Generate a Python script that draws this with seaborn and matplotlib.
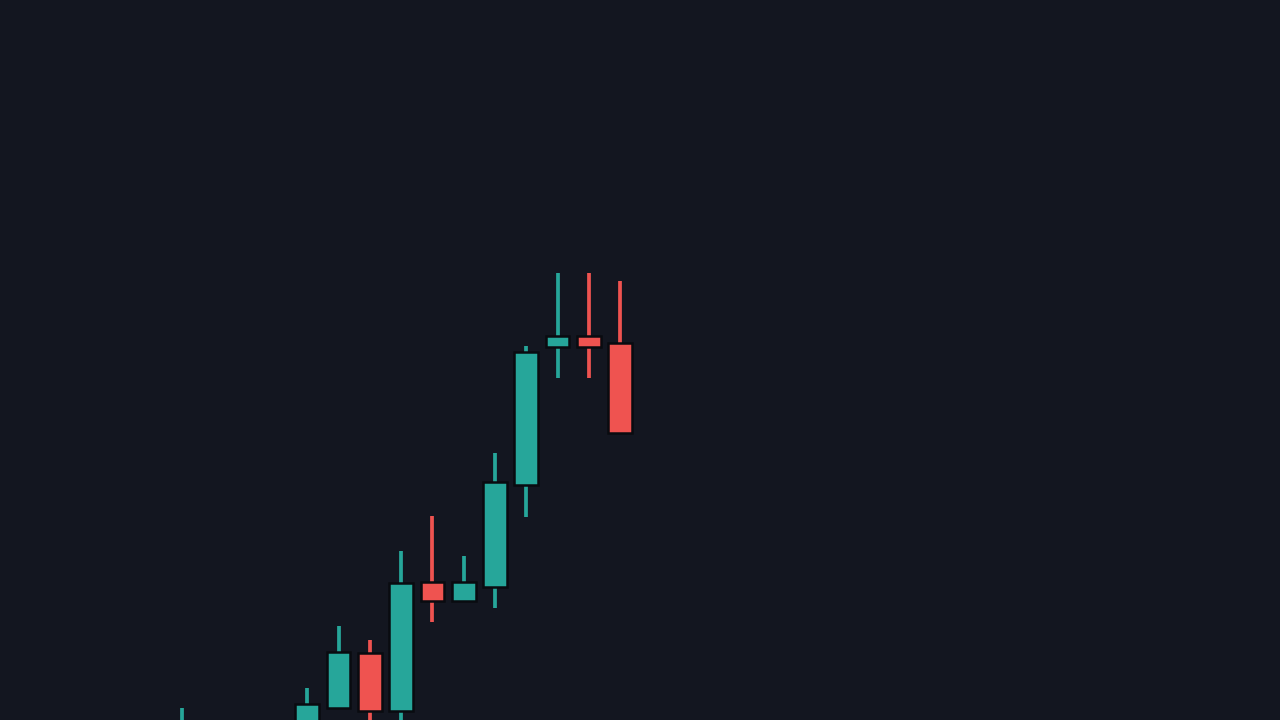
import matplotlib
matplotlib.use("Agg")
import matplotlib.pyplot as plt
import seaborn as sns
import pandas as pd
import numpy as np

# Candle data (index order, OHLC)
idx = list(range(15))
opens  = [96.0, 98.0, 95.0, 96.0, 98.5, 101.2, 106.7, 100.9, 113.8, 111.9, 113.3, 123.5, 137.3, 138.4, 137.7]
highs  = [101.2, 99.2, 98.5, 99.5, 103.2, 109.4, 108.0, 116.9, 120.4, 116.4, 126.7, 137.4, 144.7, 144.7, 143.9]
lows   = [95.0, 94.0, 93.0, 95.0, 97.5, 101.2, 99.0, 99.0, 109.8, 111.9, 111.2, 120.3, 134.2, 134.2, 128.7]
closes = [99.5, 95.0, 97.0, 98.8, 101.6, 106.8, 100.9, 113.7, 111.9, 113.8, 123.8, 136.8, 138.4, 137.3, 128.7]

BG = "#131620"
UP = "#26a69a"
DOWN = "#ef5350"

df = pd.DataFrame({"i": idx, "open": opens, "high": highs, "low": lows, "close": closes})
df["up"] = df["close"] >= df["open"]
df["color"] = np.where(df["up"], UP, DOWN)
df["bottom"] = df[["open", "close"]].min(axis=1)
df["height"] = (df["close"] - df["open"]).abs()

sns.set_theme(style="dark", rc={"axes.facecolor": BG, "figure.facecolor": BG})

fig = plt.figure(figsize=(12.8, 7.2), dpi=100)
ax = fig.add_axes([0, 0, 1, 1])
ax.set_facecolor(BG)

ax.vlines(df["i"], df["low"], df["high"], colors=df["color"], linewidth=2.7, zorder=2)
ax.bar(df["i"], df["height"], bottom=df["bottom"], width=0.76, color=df["color"],
       edgecolor="#090b10", linewidth=1.8, zorder=3)

px_per_unit = 31.3
x0_px = 182
ax.set_xlim(-x0_px / px_per_unit, (1280 - x0_px) / px_per_unit)
ax.set_ylim(100, 172)
ax.axis("off")

fig.savefig("out.png", dpi=100, facecolor=BG)
